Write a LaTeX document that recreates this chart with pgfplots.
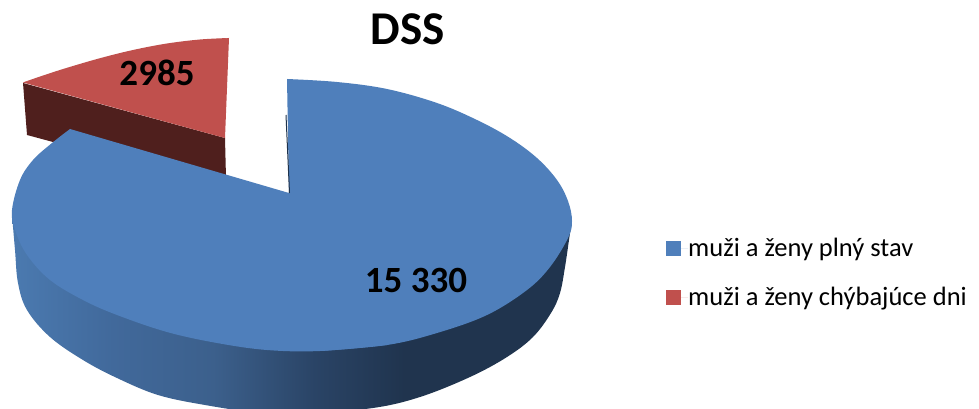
\documentclass[border=0pt]{standalone}
\usepackage{fontspec}
\setmainfont{Carlito}
\usepackage{pgfplots}
\pgfplotsset{compat=1.18}
\definecolor{pieblue}{RGB}{79,127,187}
\definecolor{piered}{RGB}{192,80,77}
\definecolor{redwall}{RGB}{79,31,29}
\definecolor{notch}{RGB}{30,50,75}
% side of the blue slice, lit from the left (25bp..75bp is the width of the path)
\pgfdeclarehorizontalshading{bluewall}{100bp}{
  rgb(0bp)=(0.294,0.478,0.690);
  rgb(25bp)=(0.294,0.478,0.690);
  rgb(34bp)=(0.255,0.412,0.608);
  rgb(43bp)=(0.235,0.376,0.549);
  rgb(52bp)=(0.165,0.267,0.400);
  rgb(60bp)=(0.125,0.204,0.306);
  rgb(100bp)=(0.125,0.204,0.306)}
\begin{document}
\begin{tikzpicture}
\useasboundingbox (0,0) rectangle (979pt,409pt);
\begin{axis}[
  scale only axis, width=979pt, height=409pt, at={(0,0)}, anchor=south west,
  xmin=0, xmax=979, ymin=0, ymax=409, y dir=reverse,
  hide axis, clip=true,
  legend style={draw=none, fill=none, at={(axis cs:666,238)}, anchor=north west,
    font=\fontsize{26.5}{31}\selectfont, row sep=29pt, inner sep=0pt,
    nodes={inner sep=0pt, anchor=west}},
  legend cell align=left,
  legend entries={mu\v{z}i a \v{z}eny pln\'y stav, mu\v{z}i a \v{z}eny ch\'ybaj\'uce dni},
]
\addlegendimage{area legend, draw=none, fill=pieblue,
  legend image code/.code={\path (0pt,0pt) -- (22pt,0pt);
    \fill[pieblue] (0pt,-7.5pt) rectangle (15pt,7.5pt);}}
\addlegendimage{area legend, draw=none, fill=piered,
  legend image code/.code={\path (0pt,0pt) -- (22pt,0pt);
    \fill[piered] (0pt,-7.5pt) rectangle (15pt,7.5pt);}}
% red slice: side, then top (arc plus a polygon back to the apex)
\addplot[forget plot, draw=none, fill=redwall] coordinates {
  (23,83)(225,138)(226,178)(70,135)(53,142)(27,135)} --cycle;
\addplot[forget plot, draw=none, fill=piered, smooth, tension=0.6] coordinates {
  (229,38)(200,39.5)(167,43.5)(133,50)(100,58.2)(67,67.8)(43,75.5)(23,82.5)};
\addplot[forget plot, draw=none, fill=piered] coordinates {
  (229,38)(200,41)(100,60)(23,82.5)(225,138)} --cycle;
% blue slice: side wall
\addplot[forget plot, draw=none, shading=bluewall, smooth, tension=0.6] coordinates {
  (12,215)(15,250)(18,283)(27,310)(50,337)(83,360)(117,378)(158,395)(205,405)
  (255,412)(310,413)(373,408)(420,397)(470,377)(507,357)(533,337)(551,313)(560,293)
  (565,267)(569,240)(572,220)};
% blue slice: top, right arc + left arc + the polygon round the notch
\addplot[forget plot, draw=none, fill=pieblue, smooth, tension=0.6] coordinates {
  (287,79)(337,82)(387,89)(437,103)(477,120)(510,138)(537,158)(557,180)(568,201)
  (572,221)(568,238)(550,267)(527,290)(487,315)(437,333)(387,345)(320,351)};
\addplot[forget plot, draw=none, fill=pieblue, smooth, tension=0.6] coordinates {
  (387,345)(320,351)(267,350)(217,343)(167,332)(117,315)(83,300)(50,280)(27,255)(15,230)
  (12,210)(20,180)(33,160)(52,143)(70,129)};
\addplot[forget plot, draw=none, fill=pieblue] coordinates {
  (70,129)(289,193)(287,79)(420,180)(420,300)(320,345)(150,300)(50,210)} --cycle;
\addplot[forget plot, draw=notch, line width=1pt] coordinates {(286,115)(289.5,193)};
\node[font=\fontsize{47}{52}\selectfont\bfseries] at (axis cs:408,29) {DSS};
\node[font=\fontsize{37}{42}\selectfont\bfseries] at (axis cs:157,73) {2985};
\node[font=\fontsize{37}{42}\selectfont\bfseries] at (axis cs:416,280) {15 330};
\end{axis}
\end{tikzpicture}
\end{document}
